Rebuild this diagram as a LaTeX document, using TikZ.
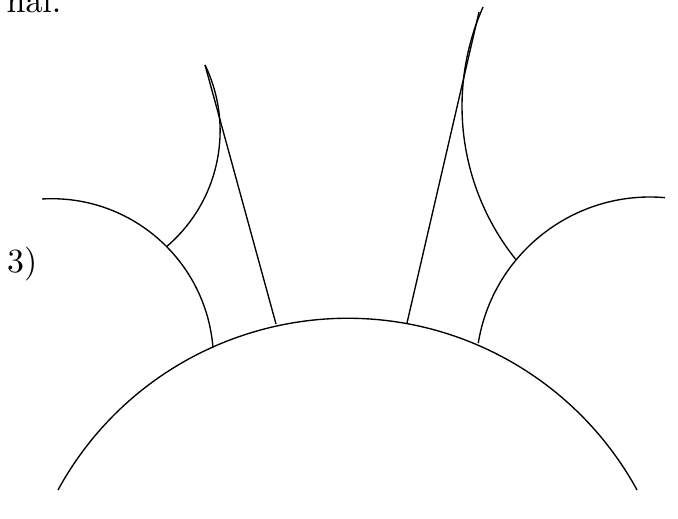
\documentclass[tikz,border=0pt]{standalone}
\begin{document}
\begin{tikzpicture}[x=0.295pt,y=-0.295pt,every node/.style={inner sep=0pt}]
  \useasboundingbox (0,0) rectangle (678,519);
  % text left over from the page
  \node[anchor=base west] (tail) at (6,12.7) {nal.};
  \node[anchor=base west] (num) at (6.5,273) {3)};

  % big circle at the bottom
  \coordinate (O) at (347.5,648.3);
  \draw (O) ++(208.67:330) arc[start angle=208.67,end angle=331.33,radius=330];

  % left and right circles
  \coordinate (A) at (51.7,360.5);
  \draw (A) ++(266.56:161.8) arc[start angle=266.56,end angle=355.57,radius=161.8];
  \coordinate (B) at (650,371);
  \draw (B) ++(189.25:174) arc[start angle=189.25,end angle=274.93,radius=174];

  % upper arcs
  \coordinate (P) at (68.3,130.9);
  \draw (P) ++(-25.74:151.8) arc[start angle=-25.74,end angle=49.63,radius=151.8];
  \coordinate (Q) at (707,106.3);
  \draw (Q) ++(203.9:245) arc[start angle=203.9,end angle=141.17,radius=245];

  % straight sides
  \coordinate (l1) at (205,65);
  \coordinate (l2) at (276,324);
  \draw (l1) -- (l2);
  \coordinate (r1) at (479,12);
  \coordinate (r2) at (407,323);
  \draw (r1) -- (r2);
\end{tikzpicture}
\end{document}
